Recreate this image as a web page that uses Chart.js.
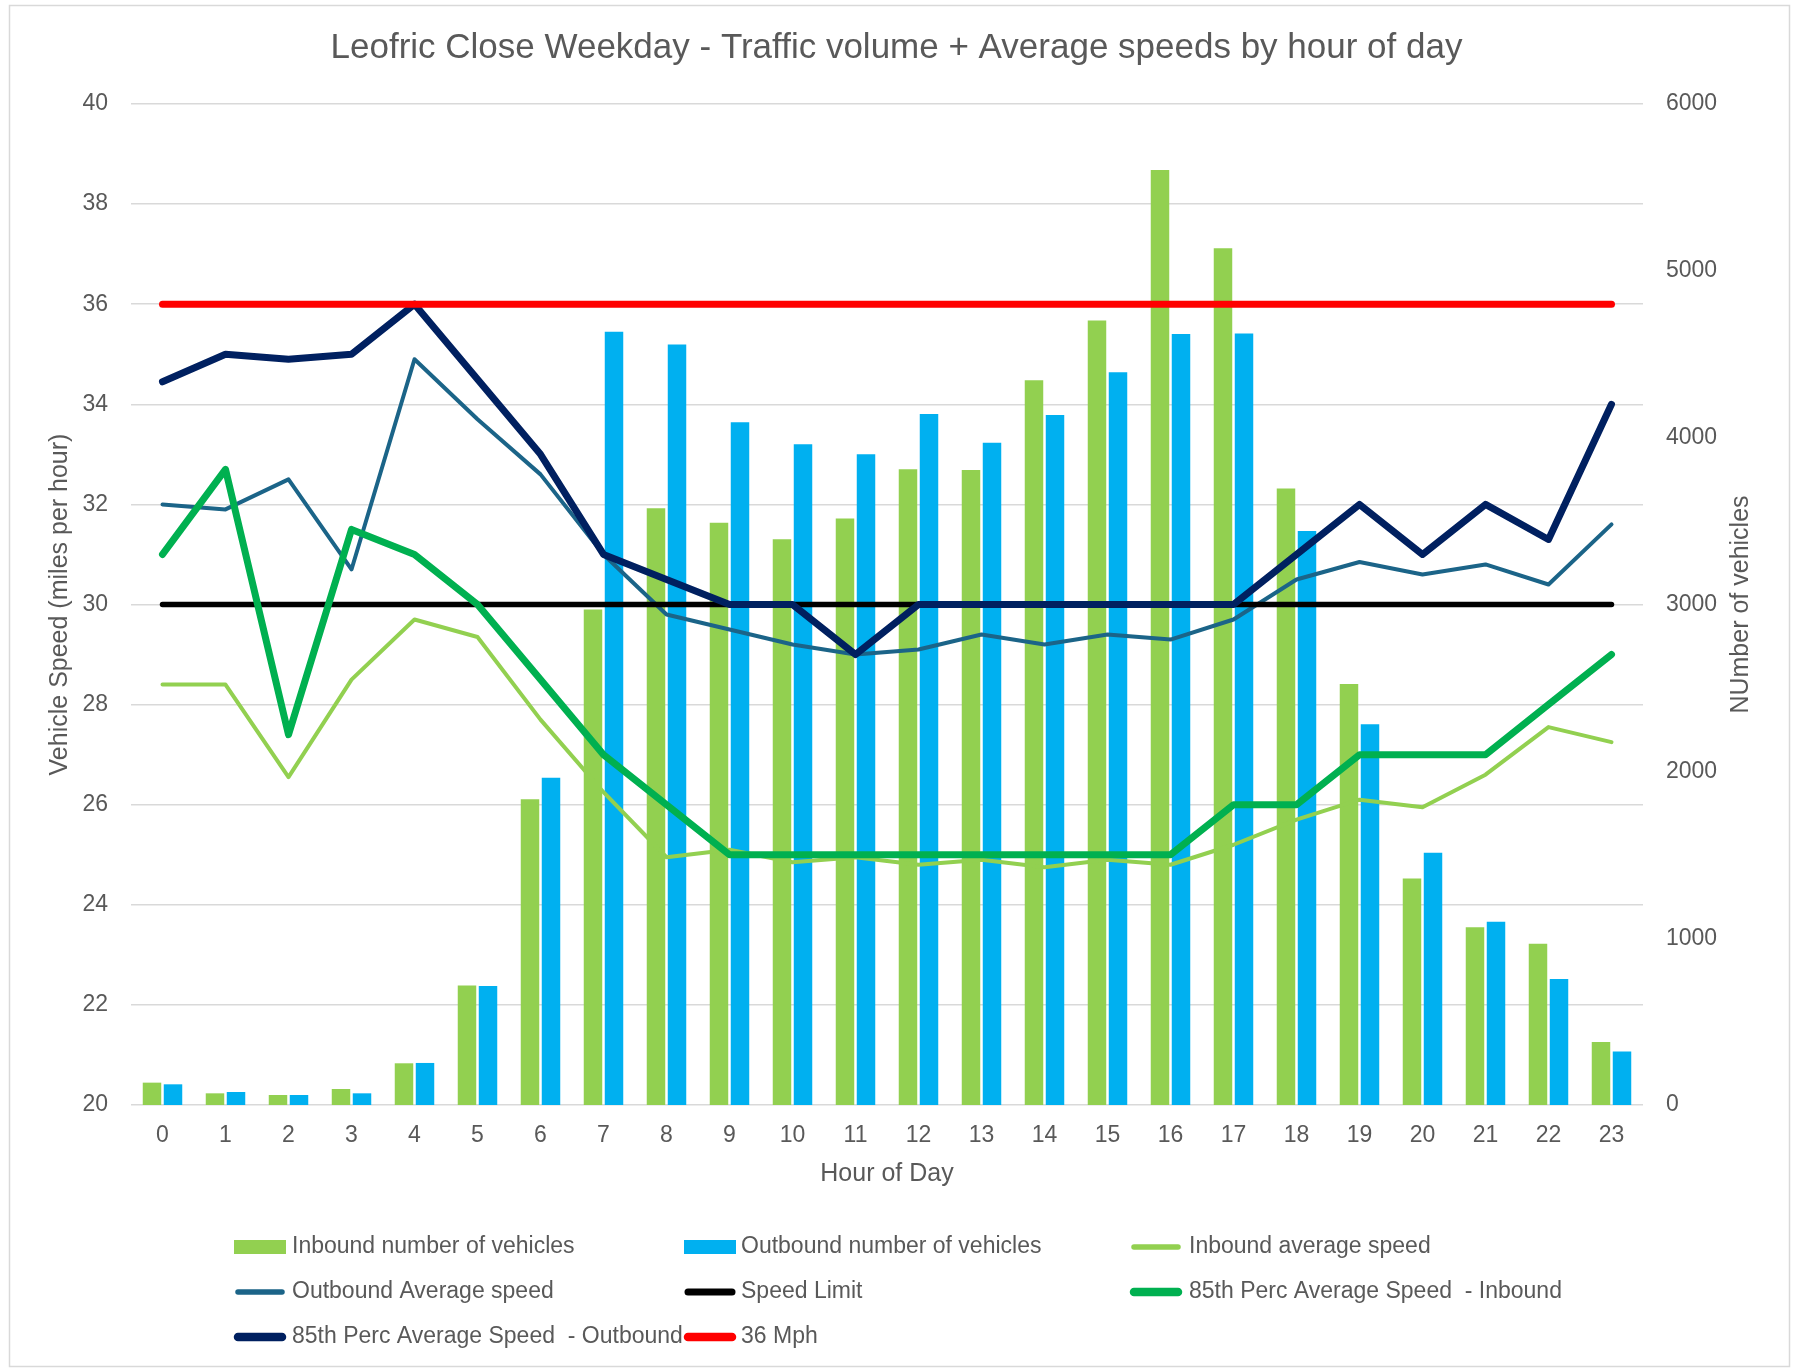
<!DOCTYPE html>
<html>
<head>
<meta charset="utf-8">
<script src="https://cdn.jsdelivr.net/npm/chart.js@4.4.1/dist/chart.umd.min.js"></script>
<style>
html,body{margin:0;padding:0;background:#ffffff;}
canvas{display:block;}
</style>
</head>
<body>
<canvas id="c" width="1793" height="1369"></canvas>
<script>
// ---- Data ----
const hours = ['0','1','2','3','4','5','6','7','8','9','10','11','12','13','14','15','16','17','18','19','20','21','22','23'];
const inboundVehicles  = [134, 70, 60, 96, 250, 717, 1832, 2970, 3577, 3490, 3391, 3516, 3810, 3806, 4344, 4703, 5604, 5135, 3696, 2523, 1357, 1065, 967, 378];
const outboundVehicles = [124, 78, 60, 70, 252, 713, 1962, 4635, 4559, 4092, 3960, 3900, 4142, 3970, 4136, 4392, 4621, 4625, 3440, 2282, 1512, 1099, 755, 320];
const inboundAvgSpeed  = [28.4, 28.4, 26.55, 28.5, 29.7, 29.35, 27.7, 26.25, 24.95, 25.1, 24.85, 24.95, 24.8, 24.9, 24.75, 24.9, 24.8, 25.2, 25.7, 26.1, 25.95, 26.6, 27.55, 27.25];
const outboundAvgSpeed = [32.0, 31.9, 32.5, 30.7, 34.9, 33.7, 32.6, 31.0, 29.8, 29.5, 29.2, 29.0, 29.1, 29.4, 29.2, 29.4, 29.3, 29.7, 30.5, 30.85, 30.6, 30.8, 30.4, 31.6];
const speedLimit       = [30,30,30,30,30,30,30,30,30,30,30,30,30,30,30,30,30,30,30,30,30,30,30,30];
const perc85Inbound    = [31.0, 32.7, 27.4, 31.5, 31.0, 30.0, 28.5, 27.0, 26.0, 25, 25, 25, 25, 25, 25, 25, 25, 26, 26, 27, 27, 27, 28, 29];
const perc85Outbound   = [34.45, 35.0, 34.9, 35.0, 36.0, 34.5, 33.0, 31.0, 30.5, 30, 30, 29, 30, 30, 30, 30, 30, 30, 31, 32, 31, 32, 31.3, 34.0];
const mph36            = [36,36,36,36,36,36,36,36,36,36,36,36,36,36,36,36,36,36,36,36,36,36,36,36];
const speedTicks   = {min: 20, max: 40, step: 2};
const vehicleTicks = {min: 0, max: 6000, step: 1000};

const TEXT = '#595959';
const FONT = "'Liberation Sans', Arial, sans-serif";
Chart.defaults.font.family = FONT;
Chart.defaults.color = TEXT;

function lineDs(label, data, color, width, order) {
  return {type:'line', label, data, borderColor:color, backgroundColor:color, borderWidth:width,
    pointRadius:0, pointHoverRadius:0, tension:0, fill:false, yAxisID:'y',
    borderCapStyle:'round', borderJoinStyle:'round', order};
}

const datasets = [
  {type:'bar', label:'Inbound number of vehicles', data:inboundVehicles, backgroundColor:'#92D050', yAxisID:'y1', order:7,
   categoryPercentage:0.667, barPercentage:0.88},
  {type:'bar', label:'Outbound number of vehicles', data:outboundVehicles, backgroundColor:'#00B0F0', yAxisID:'y1', order:8,
   categoryPercentage:0.667, barPercentage:0.88},
  lineDs('Inbound average speed', inboundAvgSpeed, '#92D050', 4, 6),
  lineDs('Outbound Average speed', outboundAvgSpeed, '#1B6488', 4, 5),
  lineDs('Speed Limit', speedLimit, '#000000', 5.5, 4),
  lineDs('85th Perc Average Speed  - Inbound', perc85Inbound, '#00B050', 7, 3),
  lineDs('85th Perc Average Speed  - Outbound', perc85Outbound, '#002060', 7, 2),
  lineDs('36 Mph', mph36, '#FF0000', 7, 1)
];

const framePlugin = {
  id:'frame',
  beforeDraw(chart){
    const ctx = chart.ctx;
    ctx.save();
    ctx.fillStyle = '#ffffff';
    ctx.fillRect(0,0,chart.width,chart.height);
    ctx.strokeStyle = '#d9d9d9';
    ctx.lineWidth = 1.5;
    ctx.strokeRect(9.5,5.5,1780,1361);
    ctx.restore();
  }
};

const extrasPlugin = {
  id:'extras',
  afterDraw(chart){
    const ctx = chart.ctx;
    // right axis title (reads bottom-to-top)
    const s = chart.scales.y1;
    ctx.save();
    ctx.fillStyle = TEXT;
    ctx.font = '25px ' + FONT;
    ctx.textAlign = 'center';
    ctx.textBaseline = 'middle';
    ctx.translate(s.right - 52, (s.top + s.bottom)/2);
    ctx.rotate(-Math.PI/2);
    ctx.fillText('NUmber of vehicles', 0, 0);
    ctx.restore();

    // legend grid
    const colSwatch = [234, 684, 1130];
    const colText = [292, 741, 1189];
    const rowY = [1247, 1292, 1337];
    ctx.save();
    ctx.font = '23px ' + FONT;
    ctx.textBaseline = 'middle';
    ctx.textAlign = 'left';
    chart.data.datasets.forEach((ds, i) => {
      const c = i % 3, r = Math.floor(i / 3);
      const x = colSwatch[c], y = rowY[r];
      if (ds.type === 'bar') {
        ctx.fillStyle = ds.backgroundColor;
        ctx.fillRect(x, y - 7, 52, 14);
      } else {
        ctx.strokeStyle = ds.borderColor;
        ctx.lineWidth = ds.borderWidth + 1.5;
        ctx.lineCap = 'round';
        ctx.beginPath();
        ctx.moveTo(x + 4, y);
        ctx.lineTo(x + 48, y);
        ctx.stroke();
      }
      ctx.fillStyle = TEXT;
      ctx.fillText(ds.label, colText[c], y);
    });
    ctx.restore();
  }
};

new Chart(document.getElementById('c'), {
  data: {labels: hours, datasets},
  options: {
    responsive:false,
    animation:false,
    devicePixelRatio:1,
    layout:{padding:{top:0,left:0,right:0,bottom:180}},
    plugins:{
      legend:{display:false},
      tooltip:{enabled:false},
      title:{display:true, text:'Leofric Close Weekday - Traffic volume + Average speeds by hour of day',
        font:{size:35, weight:'normal'}, color:TEXT, padding:{top:27, bottom:35}}
    },
    scales:{
      x:{
        grid:{display:false, drawTicks:false},
        border:{display:false},
        ticks:{padding:17, font:{size:23}, color:TEXT, maxRotation:0, autoSkip:false},
        title:{display:true, text:'Hour of Day', font:{size:25}, color:TEXT, padding:{top:0,bottom:0}},
        afterFit(s){ s.height = 84; }
      },
      y:{
        position:'left', min:speedTicks.min, max:speedTicks.max,
        ticks:{stepSize:speedTicks.step, padding:23, font:{size:23}, color:TEXT},
        grid:{color:'#d9d9d9', lineWidth:1.5, drawTicks:false},
        border:{display:false},
        title:{display:true, text:'Vehicle Speed (miles per hour)', font:{size:25}, color:TEXT, padding:{top:45,bottom:0}},
        afterFit(s){ s.width = 131; }
      },
      y1:{
        position:'right', min:vehicleTicks.min, max:vehicleTicks.max,
        ticks:{stepSize:vehicleTicks.step, padding:23, font:{size:23}, color:TEXT,
          callback:(v) => String(v)},
        grid:{display:false, drawTicks:false},
        border:{display:false},
        afterFit(s){ s.width = 150; }
      }
    }
  },
  plugins:[framePlugin, extrasPlugin]
});
</script>
</body>
</html>
